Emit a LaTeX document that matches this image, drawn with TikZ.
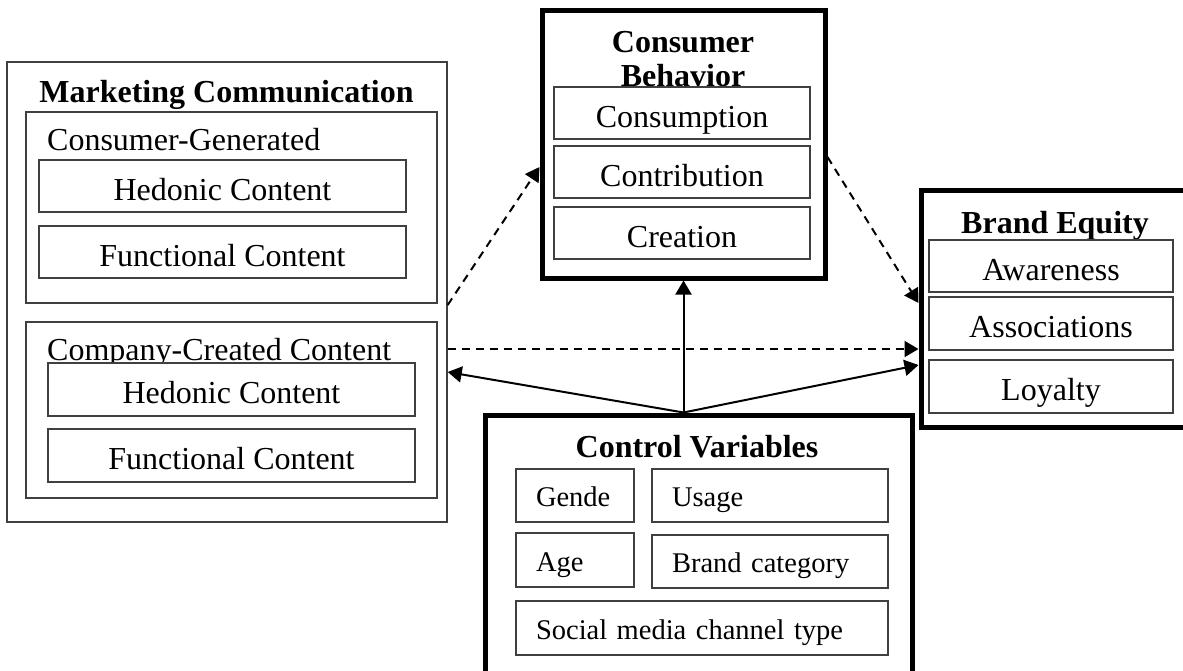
\documentclass[tikz,border=0pt]{standalone}
\usepackage{fontspec}
\setmainfont{Liberation Serif}
\usetikzlibrary{arrows.meta}
\tikzset{
  thinbox/.style={draw=black!75, line width=1.4pt, fill=white, inner sep=0pt},
  thickbox/.style={draw=black, line width=5pt, fill=white, inner sep=0pt},
  itembox/.style={thinbox, font=\fontsize{32}{34}\selectfont, text height=28pt, text depth=0pt},
  varbox/.style={thinbox, font=\fontsize{28.5}{32}\selectfont, text height=22pt, text depth=0pt, align=left, inner xsep=20pt},
  headline/.style={font=\fontsize{32}{34}\selectfont\bfseries, inner sep=0pt},
  subhead/.style={font=\fontsize{32}{34}\selectfont, inner sep=0pt, anchor=base west},
  link/.style={line width=2pt, -{Triangle[length=14pt,width=16pt]}},
  maybe/.style={link, dash pattern=on 8pt off 6pt}
}
\begin{document}
\begin{tikzpicture}[x=1pt,y=-1pt]
        \useasboundingbox (0,0) rectangle (1183,670);
        \clip (0,0) rectangle (1183,670);
        % Marketing Communication
        \node[thinbox, minimum width=440pt, minimum height=460pt] (mc) at (227,292) {};
        \node[headline, anchor=base] (mctitle) at (226.5,102) {Marketing Communication};
        \node[thinbox, minimum width=411pt, minimum height=191pt] (cg) at (231.5,207.5) {};
        \node[subhead] (cgtitle) at (47,150) {Consumer-Generated};
        \node[itembox, minimum width=367pt, minimum height=52pt] (cghed) at (222.5,186) {Hedonic Content};
        \node[itembox, minimum width=367pt, minimum height=52pt] (cgfun) at (222.5,252) {Functional Content};
        \node[thinbox, minimum width=411pt, minimum height=176pt] (cc) at (231.5,410) {};
        \node[subhead] (cctitle) at (47,360) {Company-Created Content};
        \node[itembox, minimum width=367pt, minimum height=53pt] (cched) at (231.5,389.5) {Hedonic Content};
        \node[itembox, minimum width=367pt, minimum height=53pt] (ccfun) at (231.5,455.5) {Functional Content};
        % Consumer Behavior
        \node[thickbox, minimum width=283pt, minimum height=268pt] (cb) at (683.5,144) {};
        \node[headline, anchor=north, align=center] (cbtitle) at (683,31.5) {Consumer\\Behavior};
        \node[itembox, minimum width=256pt, minimum height=52pt] (cons) at (682,113) {Consumption};
        \node[itembox, minimum width=256pt, minimum height=52pt] (contr) at (682,172) {Contribution};
        \node[itembox, minimum width=256pt, minimum height=52pt] (creat) at (682,233) {Creation};
        % Brand Equity
        \node[thickbox, minimum width=279pt, minimum height=237pt] (be) at (1060.5,308.5) {};
        \node[headline, anchor=base] (betitle) at (1055,233) {Brand Equity};
        \node[itembox, minimum width=244pt, minimum height=52pt] (aware) at (1051,266) {Awareness};
        \node[itembox, minimum width=244pt, minimum height=53pt] (assoc) at (1051,323.5) {Associations};
        \node[itembox, minimum width=244pt, minimum height=53pt] (loyal) at (1051,386.5) {Loyalty};
        % Control Variables
        \node[thickbox, minimum width=427pt, minimum height=285pt] (cv) at (698.5,557.5) {};
        \node[headline, anchor=base] (cvtitle) at (697,457) {Control Variables};
        \node[varbox, minimum width=118pt, text width=78pt, minimum height=53pt] (gender) at (575,495.5) {Gende};
        \node[varbox, minimum width=236pt, text width=196pt, minimum height=53pt] (usage) at (770,495.5) {Usage};
        \node[varbox, minimum width=118pt, text width=78pt, minimum height=54pt] (age) at (575,560) {Age};
        \node[varbox, minimum width=236pt, text width=196pt, minimum height=53pt] (brandcat) at (770,561.5) {Brand category};
        \node[varbox, minimum width=372pt, text width=332pt, minimum height=54pt] (channel) at (702,628) {Social media channel type};
        % hypothesised paths
        \draw[maybe] (mc.east |- 0,305) -- (cb.west |- 0,167);
        \draw[maybe] (cb.east |- 0,157) -- (be.west |- 0,303);
        \draw[maybe] (mc.east |- 0,349) -- (be.west |- 0,349);
        % control paths
        \coordinate (src) at (cb.south |- cv.north);
        \draw[link] (src) -- (cb.south);
        \draw[link] (src) -- (mc.east |- 0,372);
        \draw[link] (src) -- (be.west |- 0,365);
      \end{tikzpicture}
\end{document}
